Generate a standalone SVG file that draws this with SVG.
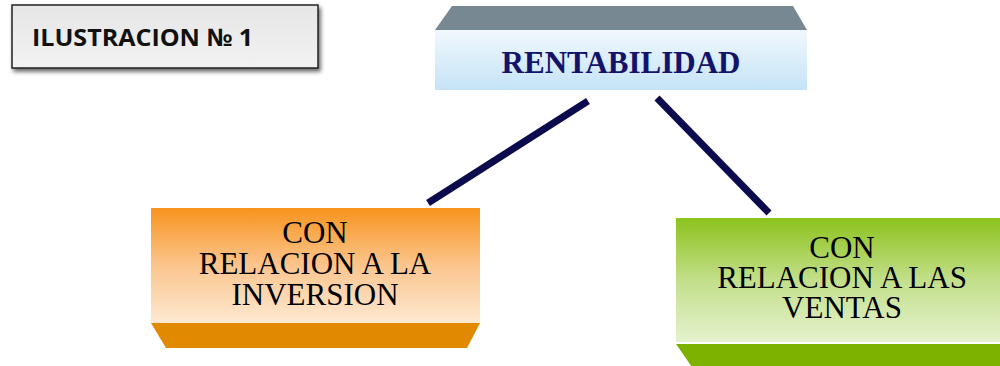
<svg xmlns="http://www.w3.org/2000/svg" width="1000" height="366" viewBox="0 0 1000 366">
<defs>
<linearGradient id="gGray" x1="0" y1="0" x2="0" y2="1"><stop offset="0" stop-color="#e6e6e6"/><stop offset="1" stop-color="#f2f2f2"/></linearGradient>
<linearGradient id="gBlue" x1="0" y1="0" x2="0" y2="1"><stop offset="0" stop-color="#f1f8fd"/><stop offset="1" stop-color="#c5e3f7"/></linearGradient>
<linearGradient id="gOrange" x1="0" y1="0" x2="0" y2="1"><stop offset="0" stop-color="#f7931e"/><stop offset="0.5" stop-color="#fbc58d"/><stop offset="1" stop-color="#fde9d2"/></linearGradient>
<linearGradient id="gGreen" x1="0" y1="0" x2="0" y2="1"><stop offset="0" stop-color="#8cc21c"/><stop offset="0.5" stop-color="#c2df8a"/><stop offset="1" stop-color="#e6f2cf"/></linearGradient>
<filter id="sh" x="-10%" y="-20%" width="130%" height="160%"><feGaussianBlur in="SourceAlpha" stdDeviation="2"/><feOffset dx="2" dy="3"/><feComponentTransfer><feFuncA type="linear" slope="0.6"/></feComponentTransfer><feMerge><feMergeNode/><feMergeNode in="SourceGraphic"/></feMerge></filter>
</defs>
<style>
.conn{stroke:#0b0b4d;stroke-width:7;fill:none}
</style>
<rect width="1000" height="366" fill="#fff"/>
<g id="connectors">
<line class="conn" x1="588" y1="101" x2="428" y2="203"/>
<line class="conn" x1="657" y1="98" x2="769" y2="213"/>
</g>
<g id="ilustracion">
<rect x="12" y="5" width="306" height="63" fill="url(#gGray)" stroke="#222" stroke-width="1.5" filter="url(#sh)"/>
<text x="32" y="46" font-family="Open Sans, Liberation Sans, sans-serif" font-weight="bold" font-size="24" textLength="221" lengthAdjust="spacingAndGlyphs" fill="#111">ILUSTRACION № 1</text>
</g>
<g id="rentabilidad">
<polygon points="452,6 793,6 807,30 435,30" fill="#778893"/>
<rect x="435" y="30" width="372" height="60" fill="url(#gBlue)"/>
<text x="621" y="73" font-family="Liberation Serif, Times New Roman, serif" font-weight="bold" font-size="31" fill="#13136b" text-anchor="middle">RENTABILIDAD</text>
</g>
<g id="inversion" font-family="Liberation Serif, Times New Roman, serif" font-size="31" fill="#000" text-anchor="middle">
<rect x="151" y="208" width="329" height="115" fill="url(#gOrange)"/>
<polygon points="151,323 480,323 467,348 166,348" fill="#e18900"/>
<text x="315" y="243">CON</text>
<text x="315" y="274">RELACION A LA</text>
<text x="315" y="305">INVERSION</text>
</g>
<g id="ventas" font-family="Liberation Serif, Times New Roman, serif" font-size="31" fill="#000" text-anchor="middle">
<rect x="676" y="218" width="330" height="124" fill="url(#gGreen)"/>
<polygon points="676,344 1006,344 1006,370 694,370" fill="#7db200"/>
<text x="842" y="258">CON</text>
<text x="842" y="288">RELACION A LAS</text>
<text x="842" y="318">VENTAS</text>
</g>
</svg>
